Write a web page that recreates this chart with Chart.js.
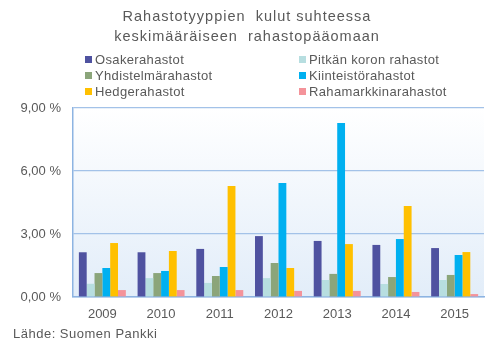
<!DOCTYPE html>
<html lang="fi">
<head>
  <meta charset="UTF-8" />
  <title>Rahastotyyppien kulut</title>
  <script src="https://cdn.jsdelivr.net/npm/chart.js@4.4.0/dist/chart.umd.min.js"></script>
  <style>
    body { margin: 0; font-family: 'Liberation Sans', Arial, sans-serif; color: #595959; }
    #wrap { position: relative; width: 498px; height: 349px; background: #fff; }
    #title { position: absolute; left: 0; width: 494px; top: 6px; text-align: center; font-size: 14.5px; letter-spacing: 1px; line-height: 20px; white-space: pre; }
    .leg { position: absolute; font-size: 13px; letter-spacing: 0.35px; line-height: 14px; white-space: nowrap; }
    .leg i { display: inline-block; width: 7px; height: 7px; margin-right: 3px; vertical-align: 1px; }
    #source { position: absolute; left: 13px; top: 326px; font-size: 13px; letter-spacing: 0.5px; }
    canvas { position: absolute; left: 0; top: 0; }
  </style>
</head>
<body>
  <div id="wrap">
    <canvas id="myChart" width="498" height="349"></canvas>
    <div id="title">Rahastotyyppien  kulut suhteessa
keskimääräiseen  rahastopääomaan</div>
    <div id="legend"></div>
    <div id="source">Lähde: Suomen Pankki</div>
  </div>

  <script>
    const years = ['2009', '2010', '2011', '2012', '2013', '2014', '2015'];
    const seriesNames = ['Osakerahastot', 'Pitkän koron rahastot', 'Yhdistelmärahastot',
      'Kiinteistörahastot', 'Hedgerahastot', 'Rahamarkkinarahastot'];
    const colors = ['#4F52A0', '#B7DEE0', '#8BA57A', '#00B0F0', '#FFC000', '#F4939A'];

    // kulut % keskimääräisestä pääomasta
    const osake = [2.13, 2.13, 2.29, 2.90, 2.67, 2.48, 2.33];
    const pitka = [0.63, 0.90, 0.67, 0.90, 0.81, 0.62, 0.81];
    const yhdistelma = [1.14, 1.14, 1.00, 1.62, 1.10, 0.95, 1.05];
    const kiinteisto = [1.38, 1.24, 1.43, 5.43, 8.29, 2.76, 2.00];
    const hedge = [2.57, 2.19, 5.29, 1.38, 2.52, 4.33, 2.14];
    const rahamarkkina = [0.33, 0.33, 0.33, 0.29, 0.29, 0.24, 0.14];
    const yTicks = [0, 3, 6, 9];

    const values = [osake, pitka, yhdistelma, kiinteisto, hedge, rahamarkkina];

    // legend, two columns
    const legend = document.getElementById('legend');
    seriesNames.forEach((name, i) => {
      const d = document.createElement('div');
      d.className = 'leg';
      d.style.left = (i % 2 === 0 ? 85 : 299) + 'px';
      d.style.top = (53 + Math.floor(i / 2) * 16) + 'px';
      d.innerHTML = '<i style="background:' + colors[i] + '"></i>' + name;
      legend.appendChild(d);
    });

    const plotBg = {
      id: 'plotBg',
      beforeDraw(chart) {
        const { ctx, chartArea: a } = chart;
        const g = ctx.createLinearGradient(0, a.top, 0, a.bottom);
        g.addColorStop(0, '#FFFFFF');
        g.addColorStop(1, '#E2EDF9');
        ctx.save();
        ctx.fillStyle = g;
        ctx.fillRect(a.left, a.top, a.right - a.left, a.bottom - a.top);
        ctx.restore();
      }
    };

    const ctx = document.getElementById('myChart').getContext('2d');
    new Chart(ctx, {
      type: 'bar',
      data: {
        labels: years,
        datasets: seriesNames.map((name, i) => ({
          label: name,
          data: values[i],
          backgroundColor: colors[i],
          borderWidth: 0,
          categoryPercentage: 0.8,
          barPercentage: 1.0
        }))
      },
      options: {
        responsive: false,
        animation: false,
        layout: { padding: { left: 0, right: 14, top: 108, bottom: 0 } },
        plugins: { legend: { display: false }, title: { display: false }, tooltip: { enabled: false } },
        scales: {
          x: {
            grid: { display: false, drawTicks: false },
            border: { color: '#8DB4E2', width: 1.5 },
            ticks: { color: '#595959', font: { family: 'Liberation Sans', size: 13 }, padding: 10 },
            afterFit(axis) { axis.height = 52; }
          },
          y: {
            min: 0,
            max: 9,
            afterBuildTicks(axis) { axis.ticks = yTicks.map(v => ({ value: v })); },
            grid: { color: '#A3C2E8', lineWidth: 1.2, drawTicks: false },
            border: { color: '#8DB4E2', width: 1.5 },
            ticks: {
              color: '#595959',
              font: { family: 'Liberation Sans', size: 13 },
              padding: 12,
              callback: v => v.toFixed(2).replace('.', ',') + ' %'
            },
            afterFit(axis) { axis.width = 73; }
          }
        }
      },
      plugins: [plotBg]
    });
  </script>
</body>
</html>
